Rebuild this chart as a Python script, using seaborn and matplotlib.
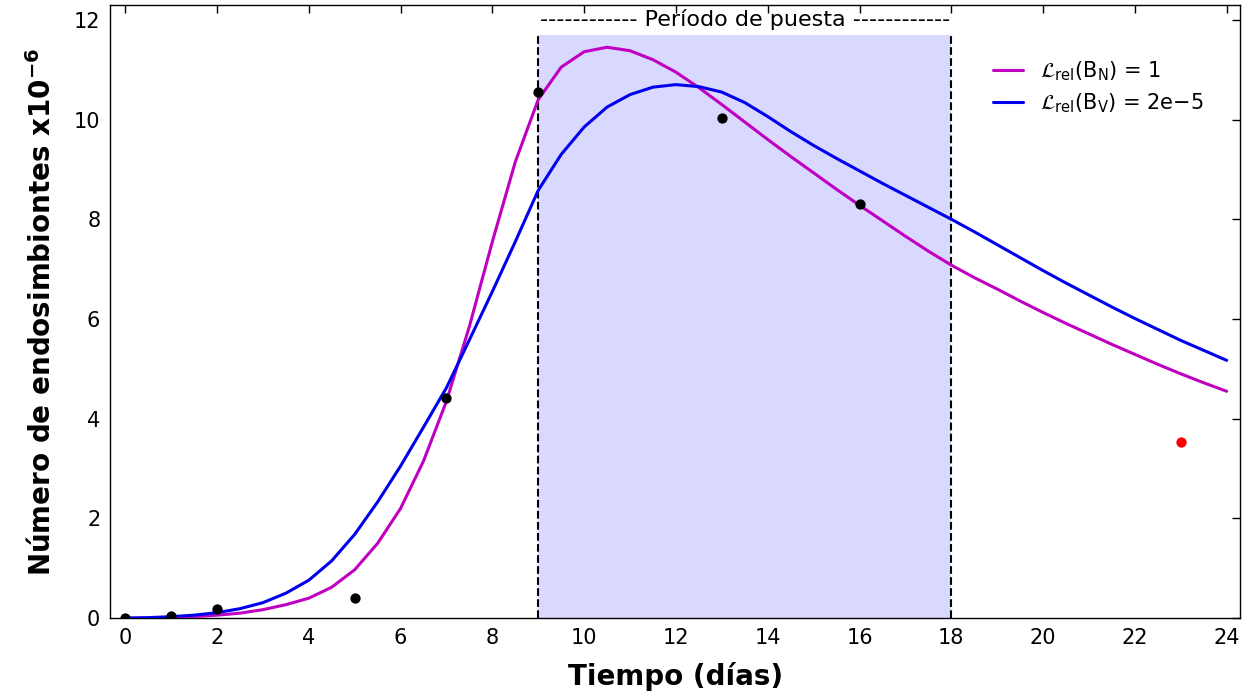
import numpy as np
import pandas as pd
import matplotlib
matplotlib.use("Agg")
import matplotlib.pyplot as plt
import seaborn as sns

# ---- data ----
t_model = [0, 0.5, 1, 1.5, 2, 2.5, 3, 3.5, 4, 4.5, 5, 5.5, 6, 6.5, 7, 7.5, 8, 8.5,
           9, 9.5, 10, 10.5, 11, 11.5, 12, 12.5, 13, 13.5, 14, 14.5, 15, 15.5, 16,
           16.5, 17, 17.5, 18, 18.5, 19, 19.5, 20, 20.5, 21, 21.5, 22, 22.5, 23,
           23.5, 24]
y_bn = [0.0, 0.005, 0.015, 0.03, 0.06, 0.10, 0.17, 0.27, 0.40, 0.62, 0.97, 1.5,
        2.2, 3.15, 4.35, 5.85, 7.55, 9.15, 10.4, 11.05, 11.36, 11.45, 11.38, 11.2,
        10.95, 10.64, 10.3, 9.95, 9.6, 9.26, 8.93, 8.6, 8.28, 7.97, 7.66, 7.36,
        7.08, 6.83, 6.6, 6.36, 6.13, 5.91, 5.7, 5.49, 5.29, 5.09, 4.9, 4.72, 4.55]
y_bv = [0.0, 0.01, 0.03, 0.06, 0.11, 0.19, 0.31, 0.50, 0.76, 1.15, 1.68, 2.33,
        3.05, 3.83, 4.62, 5.58, 6.55, 7.55, 8.58, 9.3, 9.85, 10.25, 10.5, 10.65,
        10.7, 10.66, 10.55, 10.34, 10.06, 9.76, 9.48, 9.22, 8.97, 8.72, 8.48, 8.24,
        8.0, 7.75, 7.49, 7.23, 6.97, 6.72, 6.48, 6.24, 6.01, 5.79, 5.57, 5.37, 5.17]
obs_t = [0, 1, 2, 5, 7, 9, 13, 16]
obs_y = [0.0, 0.05, 0.18, 0.40, 4.42, 10.55, 10.03, 8.30]
out_t = [23]
out_y = [3.53]
period = [9, 18]
period_top = 11.7
labels = [r"$\mathcal{L}_{\mathrm{rel}}(\mathrm{B_N})$ = 1",
          r"$\mathcal{L}_{\mathrm{rel}}(\mathrm{B_V})$ = 2e$-$5"]

sns.set_theme(style="white")
plt.rcParams["font.family"] = ["DejaVu Sans"]
plt.rcParams["mathtext.fontset"] = "dejavusans"
plt.rcParams["text.color"] = "black"
plt.rcParams["axes.labelcolor"] = "black"

fig = plt.figure(figsize=(12.53, 6.93), dpi=100)
ax = fig.add_axes([0.0878, 0.108, 0.9022, 0.885])

ax.fill_between(period, 0, period_top, color="blue", alpha=0.15, linewidth=0, zorder=0)
for p in period:
    ax.plot([p, p], [0, period_top], color="black", ls="--", lw=1.5, zorder=1)

df = pd.DataFrame({"t": t_model + t_model, "y": y_bn + y_bv,
                   "s": [labels[0]] * len(t_model) + [labels[1]] * len(t_model)})
sns.lineplot(data=df, x="t", y="y", hue="s", palette=["#c000c0", "#0000ee"],
             linewidth=2.2, ax=ax, sort=False, zorder=3)

sns.scatterplot(x=obs_t, y=obs_y, color="black", s=55, edgecolor="black",
                linewidth=0, ax=ax, zorder=4, legend=False)
sns.scatterplot(x=out_t, y=out_y, color="red", s=55, edgecolor="red",
                linewidth=0, ax=ax, zorder=4, legend=False)

ax.text(13.5, 12.0, "------------ Período de puesta ------------", ha="center",
        va="center", fontsize=16, color="black")

ax.set_xlim(-0.33, 24.3)
ax.set_ylim(0, 12.3)
ax.set_xticks(range(0, 25, 2))
ax.set_yticks(range(0, 13, 2))
ax.tick_params(direction="in", top=True, right=True, length=6, width=1,
               labelsize=15, colors="black", pad=7)
for sp in ax.spines.values():
    sp.set_color("black")
    sp.set_linewidth(1)

ax.set_xlabel("Tiempo (días)", fontsize=20, fontweight="bold", labelpad=10,
              color="black")
ax.set_ylabel(r"Número de endosimbiontes x10$^{\mathbf{-6}}$", fontsize=20,
              fontweight="bold", labelpad=12, color="black")

leg = ax.legend(loc="upper right", frameon=False, fontsize=15,
                bbox_to_anchor=(0.984, 0.942), handlelength=1.45, handletextpad=0.8,
                labelspacing=0.4)
for h in leg.get_lines():
    h.set_linewidth(2.2)
for t in leg.get_texts():
    t.set_color("black")

fig.savefig("out.png", dpi=100)
